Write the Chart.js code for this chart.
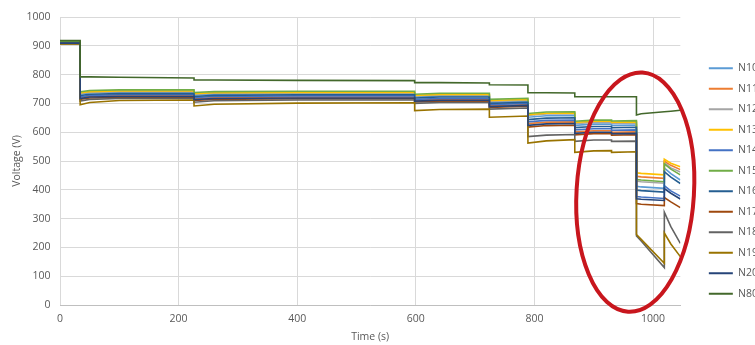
<!DOCTYPE html>
<html>
<head>
<meta charset="utf-8">
<script src="https://cdn.jsdelivr.net/npm/chart.js@4.4.1/dist/chart.umd.min.js"></script>
<style>
  html, body { margin: 0; padding: 0; background: #ffffff; overflow: hidden; }
  #wrap { position: relative; width: 771px; height: 345px; }
</style>
</head>
<body>
<div id="wrap"><canvas id="chart" width="771" height="345"></canvas></div>
<script>
// Sample times (s); repeated times mark the instant of a voltage step.
const timeSeconds = [0, 34, 34, 50, 100, 226, 226, 260, 400, 598, 598, 640, 724, 724, 789, 789, 820, 868, 868, 900, 930, 930, 972, 972, 980, 1019, 1019, 1030, 1046];

const seriesNames = ['N10', 'N11', 'N12', 'N13', 'N14', 'N15', 'N16', 'N17', 'N18', 'N19', 'N20', 'N80'];

// Node voltages (V) at each sample time
const N10 = [912, 912, 732, 737, 739, 739, 729, 732, 734, 734, 723, 726, 726, 704, 708, 652, 657, 658, 624, 628, 628, 624, 625, 412, 410, 405, 476, 456, 434];
const N11 = [910, 910, 720, 725, 727, 727, 716, 720, 722, 722, 711, 714, 714, 692, 696, 630, 635, 636, 601, 605, 605, 600, 601, 447, 445, 440, 499, 485, 470];
const N12 = [911, 911, 735, 739, 741, 741, 732, 735, 736, 736, 726, 729, 729, 707, 711, 658, 663, 664, 630, 634, 634, 631, 632, 430, 428, 423, 494, 476, 462];
const N13 = [913, 913, 737, 741, 743, 743, 734, 737, 738, 738, 728, 731, 731, 710, 714, 661, 666, 667, 634, 638, 638, 635, 636, 459, 457, 452, 506, 492, 480];
const N14 = [909, 909, 722, 728, 730, 730, 720, 724, 726, 726, 714, 717, 717, 696, 700, 636, 641, 642, 608, 612, 612, 607, 608, 377, 375, 370, 414, 396, 378];
const N15 = [914, 914, 740, 745, 747, 747, 738, 741, 742, 742, 732, 735, 735, 714, 718, 665, 670, 671, 638, 642, 642, 639, 640, 436, 434, 428, 490, 472, 452];
const N16 = [910, 910, 727, 732, 734, 734, 724, 728, 730, 730, 719, 722, 722, 700, 704, 644, 649, 650, 616, 620, 620, 616, 617, 399, 397, 392, 463, 444, 422];
const N17 = [908, 908, 714, 719, 721, 721, 710, 714, 716, 716, 705, 708, 708, 686, 690, 618, 623, 624, 591, 595, 595, 590, 591, 352, 350, 345, 373, 358, 338];
const N18 = [907, 907, 708, 714, 717, 717, 704, 709, 712, 712, 700, 703, 703, 680, 684, 585, 590, 592, 568, 573, 573, 568, 569, 240, 222, 130, 322, 272, 214];
const N19 = [906, 906, 695, 703, 710, 712, 691, 697, 701, 702, 675, 679, 680, 652, 656, 562, 570, 574, 530, 535, 536, 530, 532, 245, 228, 145, 250, 212, 168];
const N20 = [909, 909, 717, 722, 724, 724, 713, 717, 719, 719, 708, 711, 711, 689, 693, 624, 629, 630, 596, 600, 600, 595, 596, 369, 367, 363, 404, 388, 368];
const N80 = [918, 918, 792, 792, 791, 788, 781, 781, 780, 779, 772, 772, 771, 765, 764, 737, 737, 736, 723, 723, 723, 723, 723, 660, 664, 671, 671, 673, 676];

const seriesValues = [N10, N11, N12, N13, N14, N15, N16, N17, N18, N19, N20, N80];

const seriesColors = ['#5b9bd5', '#ed7d31', '#a5a5a5', '#ffc000', '#4472c4', '#70ad47',
                      '#255e91', '#9e480e', '#636363', '#997300', '#264478', '#43682b'];

// Axis ticks
const xTickStep = 200;
const yTickStep = 100;
const xMax = 1046;
const yMax = 1000;

// Highlight ring around the final transient, in data units
const highlightRing = { t: 970, v: 392, rt: 99, rv: 416, tilt: 0.06, color: '#c8161d', width: 4 };

const FONT = "'Open Sans', 'Liberation Sans', sans-serif";
const TEXT = '#595959';

const datasets = seriesNames.map((name, i) => ({
  label: name,
  data: timeSeconds.map((t, k) => ({ x: t, y: seriesValues[i][k] })),
  borderColor: seriesColors[i],
  backgroundColor: seriesColors[i],
  borderWidth: 1.6,
  pointRadius: 0,
  tension: 0,
  fill: false,
  yAxisID: 'y',
  order: seriesNames.length - 1 - i   // later series painted on top
}));

const ringPlugin = {
  id: 'ring',
  afterDraw(chart) {
    const { ctx, scales: { x, y } } = chart;
    const cx = x.getPixelForValue(highlightRing.t);
    const cy = y.getPixelForValue(highlightRing.v);
    const rx = Math.abs(x.getPixelForValue(highlightRing.t + highlightRing.rt) - cx);
    const ry = Math.abs(y.getPixelForValue(highlightRing.v + highlightRing.rv) - cy);
    ctx.save();
    ctx.beginPath();
    ctx.ellipse(cx, cy, rx, ry, highlightRing.tilt, 0, Math.PI * 2);
    ctx.strokeStyle = highlightRing.color;
    ctx.lineWidth = highlightRing.width;
    ctx.stroke();
    ctx.restore();
  }
};

const plainNumber = v => String(v);

new Chart(document.getElementById('chart'), {
  type: 'line',
  data: { datasets },
  plugins: [ringPlugin],
  options: {
    responsive: false,
    animation: false,
    layout: { padding: { top: 17, right: 3, bottom: 0, left: 0 } },
    plugins: {
      tooltip: { enabled: false },
      legend: {
        position: 'right',
        align: 'center',
        labels: {
          boxWidth: 24,
          boxHeight: 2,
          padding: 10,
          color: TEXT,
          font: { family: FONT, size: 10.5 },
          sort: (a, b) => a.datasetIndex - b.datasetIndex,
          generateLabels(chart) {
            const items = Chart.defaults.plugins.legend.labels.generateLabels(chart);
            items.forEach(it => { it.lineWidth = 0; it.fillStyle = seriesColors[it.datasetIndex]; });
            return items;
          }
        }
      }
    },
    scales: {
      x: {
        type: 'linear',
        min: 0,
        max: xMax,
        afterFit(s) { s.height = 40; },
        ticks: { stepSize: xTickStep, includeBounds: false, padding: 8, color: TEXT, font: { family: FONT, size: 10.5 }, maxRotation: 0, callback: plainNumber },
        grid: { color: '#d9d9d9', lineWidth: 1, drawTicks: false },
        border: { display: true, color: '#bfbfbf', width: 1 },
        title: { display: true, text: 'Time (s)', color: TEXT, font: { family: FONT, size: 10.5 }, padding: { top: 0, bottom: 2 } }
      },
      y: {
        type: 'linear',
        position: 'left',
        min: 0,
        max: yMax,
        afterFit(s) { s.width = 60; },
        ticks: { stepSize: yTickStep, padding: 9.5, color: TEXT, font: { family: FONT, size: 10.5 }, callback: plainNumber },
        grid: { color: '#d9d9d9', lineWidth: 1, drawTicks: false },
        border: { display: false },
        title: { display: true, text: 'Voltage (V)', color: TEXT, font: { family: FONT, size: 10.5 }, padding: { top: 10.5, bottom: 0 } }
      },
      gap: {
        type: 'linear',
        position: 'right',
        display: true,
        afterFit(s) { s.width = 18.5; },
        ticks: { display: false },
        grid: { display: false, drawTicks: false },
        border: { display: false }
      }
    }
  }
});
</script>
</body>
</html>
